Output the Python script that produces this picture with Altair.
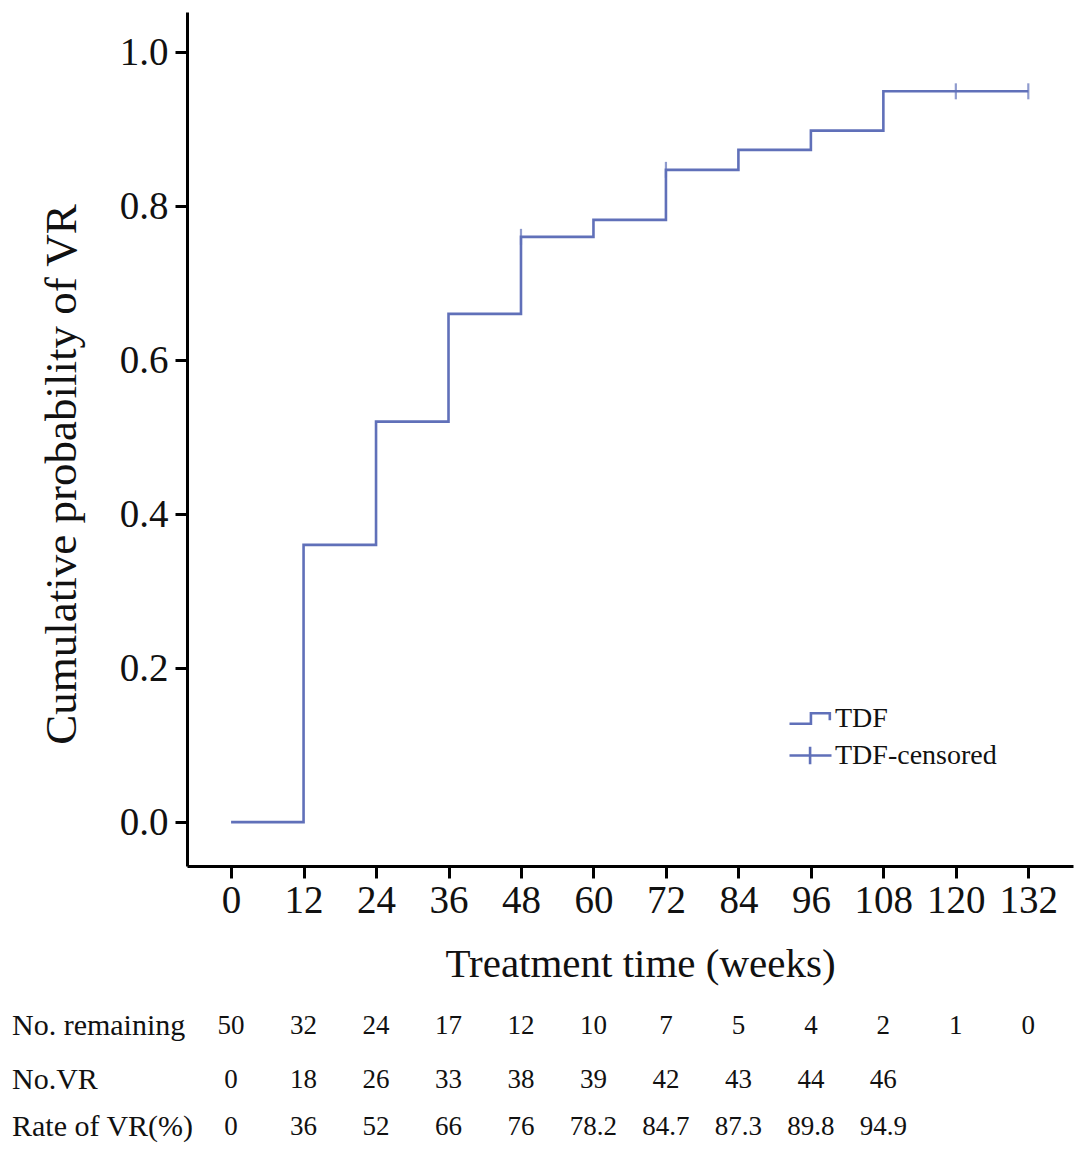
import altair as alt
import pandas as pd

# ---- data ----
step_weeks = [0, 12, 24, 36, 48, 60, 72, 84, 96, 108, 132]
step_prob = [0.0, 0.36, 0.52, 0.66, 0.76, 0.782, 0.847, 0.873, 0.898, 0.949, 0.949]

cens_weeks = [48, 72, 120, 132]
cens_prob = [0.76, 0.847, 0.949, 0.949]

tick_weeks = [0, 12, 24, 36, 48, 60, 72, 84, 96, 108, 120, 132]
y_ticks = [0.0, 0.2, 0.4, 0.6, 0.8, 1.0]

no_remaining = ["50", "32", "24", "17", "12", "10", "7", "5", "4", "2", "1", "0"]
no_vr = ["0", "18", "26", "33", "38", "39", "42", "43", "44", "46"]
rate_vr = ["0", "36", "52", "66", "76", "78.2", "84.7", "87.3", "89.8", "94.9"]

row_labels = ["No. remaining", "No.VR", "Rate of VR(%)"]
series_names = ["TDF", "TDF-censored"]

FONT = "Liberation Serif"
BLUE = "#6070b9"

step_df = pd.DataFrame({"week": step_weeks, "prob": step_prob})
cens_df = pd.DataFrame({"week": cens_weeks, "prob": cens_prob})
leg_df = pd.DataFrame({"series": series_names})

xscale = alt.Scale(domain=[-7.3, 139.4], nice=False, zero=False)
yscale = alt.Scale(domain=[-0.057, 1.052], nice=False, zero=False)

xaxis = alt.Axis(
    values=tick_weeks, title="Treatment time (weeks)", grid=False,
    domainColor="black", domainWidth=3, tickColor="black", tickWidth=3, tickSize=12,
    labelFont=FONT, labelFontSize=39, labelColor="#111", labelPadding=3,
    labelFlush=False, labelOverlap=False,
    titleFont=FONT, titleFontSize=41, titleFontWeight="normal", titleColor="#111",
    titleX=453, titleY=110, titleBaseline="alphabetic",
)
yaxis = alt.Axis(
    values=y_ticks, format=".1f", title="Cumulative probability of VR", grid=False,
    domainColor="black", domainWidth=3, tickColor="black", tickWidth=3, tickSize=12,
    labelFont=FONT, labelFontSize=39, labelColor="#111", labelPadding=7,
    labelFlush=False, labelOverlap=False,
    titleFont=FONT, titleFontSize=45, titleFontWeight="normal", titleColor="#111",
    titleX=-112, titleY=462, titleBaseline="alphabetic",
)

line = alt.Chart(step_df).mark_line(interpolate="step-after", color=BLUE, strokeWidth=2.6).encode(
    x=alt.X("week:Q", scale=xscale, axis=xaxis),
    y=alt.Y("prob:Q", scale=yscale, axis=yaxis),
)

cens = alt.Chart(cens_df).mark_tick(orient="vertical", color=BLUE, size=16, thickness=2.2).encode(
    x=alt.X("week:Q", scale=xscale),
    y=alt.Y("prob:Q", scale=yscale),
)

step_path = "M-1,0.25L0.02,0.25L0.02,-0.25L0.92,-0.25L0.92,0.08"
plus_path = "M-1,0L1,0M-0.02,-0.42L-0.02,0.42"

legend_layer = alt.Chart(leg_df).mark_point(filled=False, opacity=0).encode(
    shape=alt.Shape(
        "series:N",
        scale=alt.Scale(domain=series_names, range=[step_path, plus_path]),
        legend=alt.Legend(
            title=None, orient="none", legendX=601, legendY=684, padding=0,
            symbolSize=1764, symbolOpacity=1, symbolStrokeColor=BLUE,
            symbolStrokeWidth=2.6, symbolFillColor="transparent",
            labelFont=FONT, labelFontSize=28, labelColor="#111", labelOffset=2,
            rowPadding=-9, labelLimit=400,
        ),
    ),
)

def table_row(values, ypx):
    df = pd.DataFrame({"week": tick_weeks[: len(values)], "txt": values})
    return alt.Chart(df).mark_text(
        font=FONT, fontSize=27, color="#111", align="center", baseline="middle"
    ).encode(
        x=alt.X("week:Q", scale=xscale),
        y=alt.value(ypx),
        text="txt:N",
    )

def row_label(label, ypx):
    df = pd.DataFrame({"txt": [label]})
    return alt.Chart(df).mark_text(
        font=FONT, fontSize=30, color="#111", align="left", baseline="middle"
    ).encode(x=alt.value(-175), y=alt.value(ypx), text="txt:N")

row_y = [1014, 1068, 1115]

chart = alt.layer(
    line, cens, legend_layer,
    table_row(no_remaining, row_y[0]),
    table_row(no_vr, row_y[1]),
    table_row(rate_vr, row_y[2]),
    row_label(row_labels[0], row_y[0]),
    row_label(row_labels[1], row_y[1]),
    row_label(row_labels[2], row_y[2]),
).properties(
    width=886, height=854,
    background="white",
    padding={"left": 4, "top": 4, "right": 5, "bottom": 5},
).configure_view(strokeWidth=0, stroke="transparent")

chart.save("out.html", embed_options={"renderer": "svg", "actions": False})
